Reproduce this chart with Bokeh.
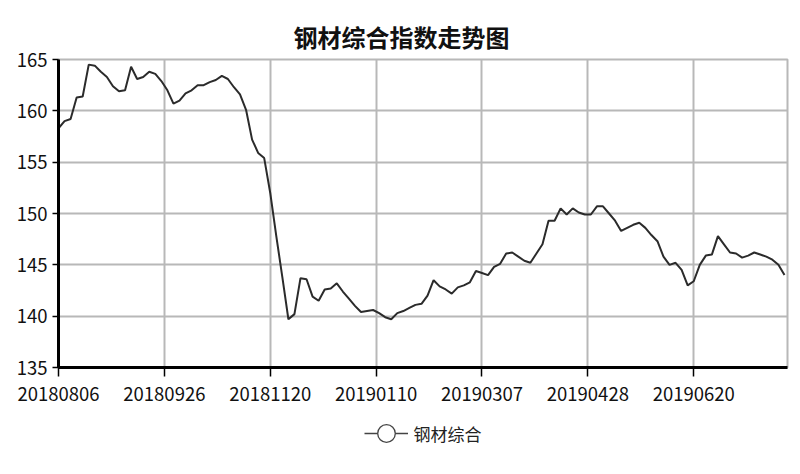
from bokeh.plotting import figure
from bokeh.layouts import column
from bokeh.models import Range1d, FixedTicker, Legend, LegendItem, ColumnDataSource
from bokeh.embed import file_html
from bokeh.resources import INLINE

title_text = "钢材综合指数走势图"
series_name = "钢材综合"
tick_labels = ["20180806", "20180926", "20181120", "20190110", "20190307", "20190428", "20190620"]
tick_every = 35  # trading days between labelled ticks
sample_step = 2  # trading days between listed values

values = [
    158.3, 159.0, 159.2, 161.3, 161.4, 164.5, 164.4, 163.8, 163.3, 162.4,
    161.9, 162.0, 164.3, 163.1, 163.3, 163.8, 163.6, 162.9, 162.0, 160.7,
    161.0, 161.7, 162.0, 162.5, 162.5, 162.8, 163.0, 163.4, 163.1, 162.3,
    161.6, 160.1, 157.2, 155.9, 155.4, 152.0, 147.8, 143.8, 139.7, 140.2,
    143.7, 143.6, 141.9, 141.5, 142.6, 142.7, 143.2, 142.4, 141.7, 141.0,
    140.4, 140.5, 140.6, 140.3, 139.9, 139.7, 140.3, 140.5, 140.8, 141.1,
    141.2, 142.0, 143.5, 142.9, 142.6, 142.2, 142.8, 143.0, 143.3, 144.4,
    144.2, 144.0, 144.8, 145.1, 146.1, 146.2, 145.8, 145.4, 145.2, 146.1,
    147.0, 149.3, 149.3, 150.5, 149.9, 150.5, 150.1, 149.9, 149.9, 150.7,
    150.7, 150.0, 149.3, 148.3, 148.6, 148.9, 149.1, 148.6, 147.9, 147.3,
    145.8, 145.0, 145.2, 144.5, 143.0, 143.4, 145.0, 145.9, 146.0, 147.8,
    147.0, 146.2, 146.1, 145.7, 145.9, 146.2, 146.0, 145.8, 145.5, 145.0,
    144.0,
]

xs = [i * sample_step for i in range(len(values))]
source = ColumnDataSource(data=dict(x=xs, y=values))

FONT = "Noto Sans CJK SC"
LINE_COLOR = "#2b2b2b"

p = figure(width=792, height=409, output_backend="svg", toolbar_location=None,
           x_range=Range1d(0, 241), y_range=Range1d(135, 165),
           min_border_left=58, min_border_right=5, min_border_top=59, min_border_bottom=42)

p.title.text = title_text
p.title.align = "left"
p.title.offset = 235
p.title.vertical_align = "middle"
p.title.text_font = FONT
p.title.text_font_size = "24px"
p.title.text_font_style = "bold"
p.title.text_color = "#111111"

p.line("x", "y", source=source, line_color=LINE_COLOR, line_width=2)

p.xaxis.ticker = FixedTicker(ticks=[i * tick_every for i in range(len(tick_labels))])
p.xaxis.major_label_overrides = {i * tick_every: lab for i, lab in enumerate(tick_labels)}
p.yaxis.ticker = FixedTicker(ticks=[135, 140, 145, 150, 155, 160, 165])

for ax in (p.xaxis, p.yaxis):
    ax.axis_line_color = "black"
    ax.axis_line_width = 3
    ax.major_tick_line_color = "black"
    ax.major_tick_line_width = 1.5
    ax.minor_tick_line_color = None
    ax.major_label_text_font = FONT
    ax.major_label_text_font_size = "18.5px"
    ax.major_label_text_color = "#111111"
p.xaxis.major_tick_out = 9
p.xaxis.major_tick_in = 0
p.xaxis.major_label_standoff = 10
p.yaxis.major_tick_out = 6
p.yaxis.major_tick_in = 0
p.yaxis.major_label_standoff = 5

p.xgrid.grid_line_color = "#b8b8b8"
p.ygrid.grid_line_color = "#b8b8b8"
p.xgrid.grid_line_width = 2
p.ygrid.grid_line_width = 2
p.outline_line_color = "#b8b8b8"
p.outline_line_width = 2

# Legend strip below the chart: its own renderers sit outside the strip's view
leg = figure(width=792, height=65, output_backend="svg", toolbar_location=None,
             x_range=Range1d(-20, -10), y_range=Range1d(0, 1),
             min_border_left=0, min_border_right=0, min_border_top=0, min_border_bottom=0)
leg.axis.visible = False
leg.grid.visible = False
leg.outline_line_color = None
lg_line = leg.line("x", "y", source=source, line_color="#444444", line_width=1.6)
lg_mark = leg.scatter("x", "y", source=source, marker="circle", size=17,
                      fill_color="white", line_color="#444444", line_width=1.3)

legend = Legend(items=[LegendItem(label=series_name, renderers=[lg_line, lg_mark])],
                orientation="horizontal", location="top_center",
                label_text_font=FONT, label_text_font_size="17px",
                label_text_color="#222222", glyph_width=44, glyph_height=44,
                border_line_color=None, background_fill_alpha=0,
                margin=2, padding=2, spacing=4, label_standoff=6)
leg.add_layout(legend, "center")

open("out.html", "w").write(file_html(column(p, leg, spacing=0), INLINE))
